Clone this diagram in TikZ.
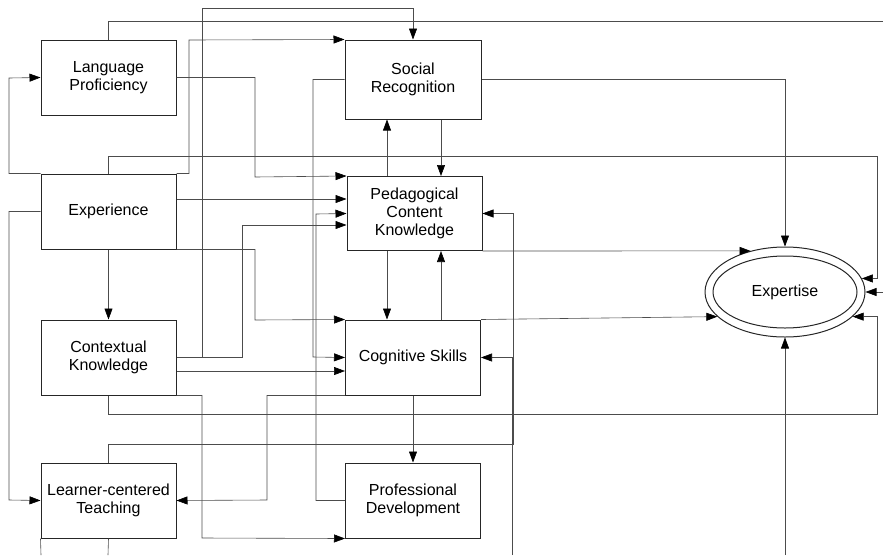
\documentclass[tikz,border=0pt]{standalone}
\usepackage{fontspec}
\setmainfont{Liberation Sans}
\usetikzlibrary{arrows.meta,shapes.geometric,calc}

\begin{document}
\begin{tikzpicture}[x=1pt,y=-1pt,
	>={Triangle[length=11pt,width=8pt,color=black]},
	link/.style={->,draw=black!70,line width=0.6pt},
	plain/.style={draw=black!70,line width=0.6pt},
	box/.style={draw=black!85,line width=1pt,minimum width=135pt,minimum height=75pt,align=center,font=\fontsize{16}{18}\selectfont}]
	\useasboundingbox (0,0) rectangle (883,555);
	\node[box] (lp) at (108.5,77.5) {Language\\Proficiency};
	\node[box] (exp) at (108.5,211.5) {Experience};
	\node[box] (ck) at (108.5,357.5) {Contextual\\Knowledge};
	\node[box] (lct) at (108.5,500.5) {Learner-centered\\Teaching};
	\node[box,minimum height=79pt,minimum width=136pt] (sr) at (413,79.5) {Social\\Recognition};
	\node[box,minimum height=74pt] (pck) at (414.5,213.5) {Pedagogical\\Content\\Knowledge};
	\node[box] (cs) at (413,357.5) {Cognitive Skills};
	\node[box] (pd) at (413,500.5) {Professional\\Development};
	\node[draw=black!85,line width=1pt,ellipse,inner sep=0pt,minimum width=160pt,minimum height=90pt,font=\fontsize{16}{18}\selectfont] (ex) at (785,292) {Expertise};
	\draw[black!85,line width=1pt] (ex.center) ellipse (72 and 36);
	\coordinate (outtop) at (883,21);
	\coordinate (outright) at (883,292);
	\coordinate (inex) at (785,555);
	\coordinate (incs) at (512,555);
	\coordinate (outa) at (41,555);
	\coordinate (outb) at (108,555);
	\draw[plain] (lp.north) |- (outtop);
	\draw[link] (ck.east) -| (202,8) -| (sr.north);
	\draw[link] (ck.east) -| (242,225) -- (pck.west |- 0,225);
	\draw[link] (exp.north east) -| (189,40) -- (sr.north west);
	\draw[link] (lp.east) -| (255,177) -- (pck.north west);
	\draw[link] (exp.north west) -| (9,78) -- (lp.west);
	\draw[link] (exp.north) |- (877,156) |- (ex.10);
	\draw[link] (exp.east |- 0,199) -- (pck.west |- 0,199);
	\draw[link] (exp.west) -| (9,500) -- (lct.west);
	\draw[link] (exp.south east) -| (255,320) -- (cs.north west);
	\draw[link] (exp.south) -- (ck.north);
	\draw[link] (sr.west) -| (313,357) -- (cs.west);
	\draw[link] (pd.west) -| (316,214) -- (pck.west);
	\draw[link] (ck.east |- 0,371) -- (cs.west |- 0,371);
	\draw[link] (ck.south east) -| (202,538) -- (pd.south west);
	\draw[link] (ck.south) |- (877,414) |- (ex.-20);
	\draw[link] (cs.south west) -| (267,500) -- (lct.east);
	\draw[link] (cs.south) -- (pd.north);
	\draw[link] (lct.north) |- (513,444) |- (pck.east);
	\draw[link] (incs) |- (cs.east);
	\draw[link] (sr.east) -| (ex.north);
	\draw[link] (pck.north -| 387,0) -- (sr.south -| 387,0);
	\draw[link] (sr.south -| 441,0) -- (pck.north -| 441,0);
	\draw[link] (pck.south -| 387,0) -- (cs.north -| 387,0);
	\draw[link] (cs.north -| 441,0) -- (pck.south -| 441,0);
	\draw[link] (pck.south east) -- (ex.130);
	\draw[link] (cs.north east) -- (ex.200);
	\draw[link] (outright) -- (ex.east);
	\draw[link] (inex) -- (ex.south);
	\draw[plain] (lct.south west) -- (outa);
	\draw[plain] (lct.south) -- (outb);
\end{tikzpicture}
\end{document}
